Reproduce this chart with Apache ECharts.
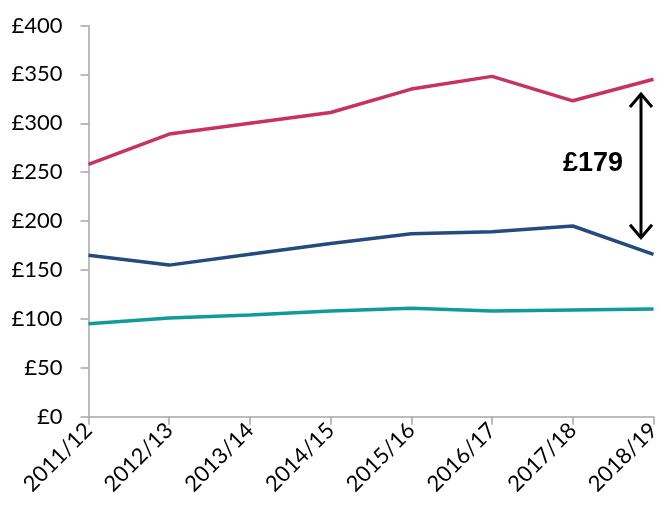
<!DOCTYPE html>
<html><head><meta charset="utf-8">
<script src="https://cdn.jsdelivr.net/npm/echarts@6/dist/echarts.min.js"></script>
<style>html,body{margin:0;padding:0;background:#fff}#c{width:659px;height:515px}</style>
</head><body><div id="c"></div>
<script>
const categories = ['2011/12','2012/13','2013/14','2014/15','2015/16','2016/17','2017/18','2018/19'];
const redSeries = [258, 289, 300, 311, 335, 348, 323, 345];
const blueSeries = [165, 155, 166, 177, 187, 189, 195, 166];
const tealSeries = [95, 101, 104, 108, 111, 108, 109, 110];
const yTicks = {min: 0, max: 400, interval: 50};
const gapLabel = '£179';
const gapTop = 330, gapBottom = 183;

const chart = echarts.init(document.getElementById('c'));
const font = 'Lato, "Open Sans", sans-serif';
const mk = (data, color) => ({type:'line', data, symbol:'none', lineStyle:{color, width:3.5}, itemStyle:{color}, animation:false});
chart.setOption({
  animation:false,
  grid:{left:88.5, right:5.5, top:25.5, bottom:98.3, containLabel:false, outerBoundsMode:'none'},
  xAxis:{type:'category', data:categories, boundaryGap:false,
    axisLine:{lineStyle:{color:'#a6a6a6', width:1.5}},
    axisTick:{show:true, length:8, lineStyle:{color:'#a6a6a6', width:1.5}},
    axisLabel:{rotate:45, color:'#000', fontSize:22, fontFamily:font, margin:10}},
  yAxis:{type:'value', min:yTicks.min, max:yTicks.max, interval:yTicks.interval,
    splitLine:{show:false},
    axisLine:{show:true, lineStyle:{color:'#a6a6a6', width:1.5}},
    axisTick:{show:true, length:8, lineStyle:{color:'#a6a6a6', width:1.5}},
    axisLabel:{color:'#000', fontSize:22, fontFamily:font, margin:26, formatter:v=>'£'+v}},
  series:[mk(redSeries,'#C7325F'), mk(blueSeries,'#234B7D'), mk(tealSeries,'#0E9B9A')]
});
const x = 641;
const yT = chart.convertToPixel({yAxisIndex:0}, gapTop);
const yB = chart.convertToPixel({yAxisIndex:0}, gapBottom);
chart.setOption({graphic:[
  {type:'line', shape:{x1:x,y1:yT,x2:x,y2:yB}, style:{stroke:'#000', lineWidth:3}},
  {type:'polyline', shape:{points:[[x-11,yT+13],[x,yT],[x+11,yT+13]]}, style:{stroke:'#000', lineWidth:3, fill:null}},
  {type:'polyline', shape:{points:[[x-11,yB-13],[x,yB],[x+11,yB-13]]}, style:{stroke:'#000', lineWidth:3, fill:null}},
  {type:'text', x:623, y:164, style:{text:gapLabel, font:'bold 27px "Liberation Sans", Arial, sans-serif', fill:'#000', textAlign:'right', textVerticalAlign:'middle'}}
]});
</script></body></html>
